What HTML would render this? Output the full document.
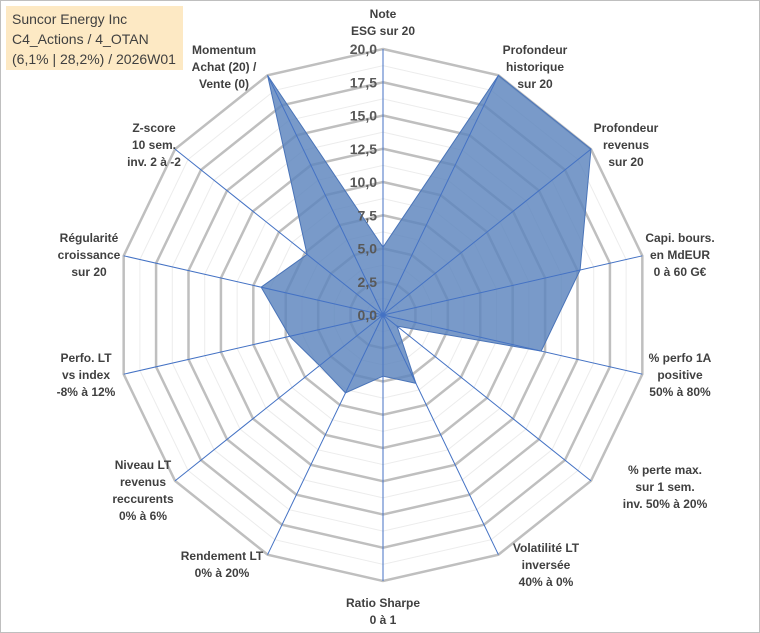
<!DOCTYPE html>
<html><head><meta charset="utf-8"><style>
body{margin:0;background:#fff;}
svg{display:block;font-family:"Liberation Sans",sans-serif;}
.lbl{font-size:12px;font-weight:bold;fill:#404040;text-anchor:middle;}
.tick{font-size:14px;font-weight:bold;fill:#595959;text-anchor:end;}
</style></head><body>
<svg id="chart" width="760" height="633">
<rect x="0.5" y="0.5" width="759" height="632" fill="#fff" stroke="#bfbfbf"/>
<g id="grid"></g>
<g id="series"></g>
<g id="ticks"></g>
<g id="labels"></g>
<rect x="6" y="6" width="177" height="64" fill="#fde9c4"/>
<text x="12" y="24" font-size="14" fill="#404040">Suncor Energy Inc</text>
<text x="12" y="44" font-size="14" fill="#404040">C4_Actions / 4_OTAN</text>
<text x="12" y="64" font-size="14" fill="#404040">(6,1% | 28,2%) / 2026W01</text>
</svg>
<script>
const categories=[["Note","ESG sur 20"],["Profondeur","historique","sur 20"],["Profondeur","revenus","sur 20"],["Capi. bours.","en MdEUR","0 à 60 G€"],["% perfo 1A","positive","50% à 80%"],["% perte max.","sur 1 sem.","inv. 50% à 20%"],["Volatilité LT","inversée","40% à 0%"],["Ratio Sharpe","0 à 1"],["Rendement LT","0% à 20%"],["Niveau LT","revenus","reccurents","0% à 6%"],["Perfo. LT","vs index","-8% à 12%"],["Régularité","croissance","sur 20"],["Z-score","10 sem.","inv. 2 à -2"],["Momentum","Achat (20) /","Vente (0)"]];
const values=[5.1,20,20,15.2,12.2,1.35,5.7,4.6,6.5,6.1,7.2,9.4,7.3,20];
const tickLabels=["0,0","2,5","5,0","7,5","10,0","12,5","15,0","17,5","20,0"];
const labelAnchors=[[383,14],[535,50],[626,128],[680,238],[680,358],[665,470],[546,548],[383,603],[222,556],[143,465],[86,358],[89,238],[154,128],[224,50]];
const cx=383,cy=315,R=266,maxV=20,N=categories.length;
const NS="http://www.w3.org/2000/svg";
function ang(i){return i*2*Math.PI/N;}
function pt(i,v){const r=v/maxV*R;return [cx+r*Math.sin(ang(i)),cy-r*Math.cos(ang(i))];}
function mk(t,a,p){const e=document.createElementNS(NS,t);for(const k in a)e.setAttribute(k,a[k]);p.appendChild(e);return e;}
const grid=document.getElementById('grid');
for(let s=1;s<=16;s++){const v=s*1.25;const pts=[];for(let i=0;i<N;i++)pts.push(pt(i,v).join(','));
 const major=s%2===0;
 const e=mk('polygon',{points:pts.join(' '),fill:'none',stroke:major?'#bfbfbf':'#ececec','stroke-width':major?2.5:1},grid);
 
 }
const ser=document.getElementById('series');
const poly=mk('polygon',{points:values.map((v,i)=>pt(i,v).join(',')).join(' '),fill:'#5b84bd','fill-opacity':0.82,stroke:'#4a74b8','stroke-width':1},ser);


for(let i=0;i<N;i++){const p=pt(i,maxV);const l=mk('line',{x1:cx,y1:cy,x2:p[0],y2:p[1],stroke:'#4472c4','stroke-width':1},ser);
 
 }
const tk=document.getElementById('ticks');
tickLabels.forEach((t,k)=>{const y=cy-k*2.5/maxV*R;const e=mk('text',{x:cx-6,y:y+5,class:'tick'},tk);e.textContent=t;
 
 });
const lg=document.getElementById('labels');
categories.forEach((c,i)=>{const a=labelAnchors[i];const e=mk('text',{class:'lbl',x:a[0],y:a[1]+4},lg);
 
 
 c.forEach((line,j)=>{const ts=mk('tspan',{x:a[0],dy:j===0?0:17},e);ts.textContent=line;});});
</script>
</body></html>
